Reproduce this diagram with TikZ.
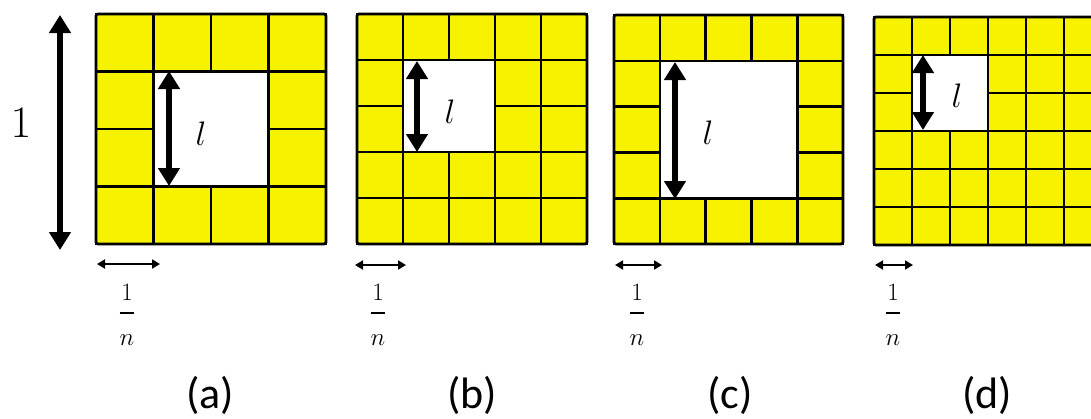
\RequirePackage{fix-cm}
\documentclass[tikz,border=0pt]{standalone}
\usepackage{fontspec}
\newfontfamily\calib{Carlito}
\usetikzlibrary{arrows.meta}
\definecolor{cellyellow}{RGB}{247,242,0}
\tikzset{
  cellbox/.style={draw=black, fill=cellyellow, line width=2.6pt},
  outerbox/.style={draw=black, line width=2.8pt, rounded corners=2pt},
  bigarrow/.style={line width=6pt, {Triangle[width=21pt,length=18pt]}-{Triangle[width=21pt,length=18pt]}},
  smallarrow/.style={line width=1.8pt, {Triangle[width=9pt,length=8pt]}-{Triangle[width=9pt,length=8pt]}},
  onelbl/.style={inner sep=0pt, font=\fontsize{45}{45}\selectfont},
  lenlbl/.style={inner sep=0pt, font=\fontsize{34}{34}\selectfont},
  fraclbl/.style={inner sep=0pt, anchor=base, font=\fontsize{25}{25}\selectfont},
  panellbl/.style={inner sep=0pt, font=\calib\fontsize{44}{44}\selectfont}
}
\newcommand\gridpanel[6]{%
  \foreach \i in {1,...,#3}{\foreach \j in {1,...,#3}{%
    \pgfmathtruncatemacro\inhole{(\i>=#5)*(\i<=#6)*(\j>=#5)*(\j<=#6)}%
    \ifnum\inhole=0
      \draw[cellbox] ({#1+(\i-1)*#4},{#2+(\j-1)*#4}) rectangle ++(#4,#4);
    \fi
  }}%
  \draw[outerbox] (#1,#2) rectangle ++({#3*#4},{#3*#4});
}
\newcommand\oneovern{$\displaystyle{1\rule[-0.31em]{0pt}{0pt}\above1.5pt\rule{0pt}{1.07em}n}$}
\begin{document}
\begin{tikzpicture}[x=1pt,y=-1pt]
  \useasboundingbox (0,0) rectangle (1091,418);
  \fill[white] (0,0) rectangle (1091,418);
  \clip (0,0) rectangle (1091,418);

  % grids
  \gridpanel{96}{14}{4}{57.5}{2}{3}
  \gridpanel{357}{14}{5}{46}{2}{3}
  \gridpanel{614}{15}{5}{45.8}{2}{4}
  \gridpanel{874}{17}{6}{38}{2}{3}

  % big unit arrow
  \coordinate (oneTop) at (60,15);
  \coordinate (oneBot) at (60,250);
  \draw[bigarrow] (oneTop) -- (oneBot);
  \node[onelbl] (one) at (21,123) {$1$};

  % l arrows
  \coordinate (laT) at (169,71);  \coordinate (laB) at (169,186);
  \coordinate (lbT) at (417,61);  \coordinate (lbB) at (417,152);
  \coordinate (lcT) at (675,62);  \coordinate (lcB) at (675,199);
  \coordinate (ldT) at (923,55);  \coordinate (ldB) at (923,130);
  \draw[bigarrow] (laT) -- (laB);
  \draw[bigarrow] (lbT) -- (lbB);
  \draw[bigarrow] (lcT) -- (lcB);
  \draw[bigarrow] (ldT) -- (ldB);
  \node[lenlbl] (la) at (201,134) {$l$};
  \node[lenlbl] (lb) at (450,112) {$l$};
  \node[lenlbl] (lc) at (708,133) {$l$};
  \node[lenlbl] (ld) at (957,96) {$l$};

  % 1/n arrows
  \coordinate (naL) at (97,264);  \coordinate (naR) at (160,264);
  \coordinate (nbL) at (355,265); \coordinate (nbR) at (406,265);
  \coordinate (ncL) at (615,265); \coordinate (ncR) at (662,265);
  \coordinate (ndL) at (875,265); \coordinate (ndR) at (913,265);
  \draw[smallarrow] (naL) -- (naR);
  \draw[smallarrow] (nbL) -- (nbR);
  \draw[smallarrow] (ncL) -- (ncR);
  \draw[smallarrow] (ndL) -- (ndR);
  \node[fraclbl] (fa) at (127,319.25) {\oneovern};
  \node[fraclbl] (fb) at (378,319.25) {\oneovern};
  \node[fraclbl] (fc) at (637,319.25) {\oneovern};
  \node[fraclbl] (fd) at (893,319.25) {\oneovern};

  % panel captions
  \node[panellbl] (capa) at (210,395) {(a)};
  \node[panellbl] (capb) at (472,395) {(b)};
  \node[panellbl] (capc) at (730,395) {(c)};
  \node[panellbl] (capd) at (987,395) {(d)};
\end{tikzpicture}
\end{document}
